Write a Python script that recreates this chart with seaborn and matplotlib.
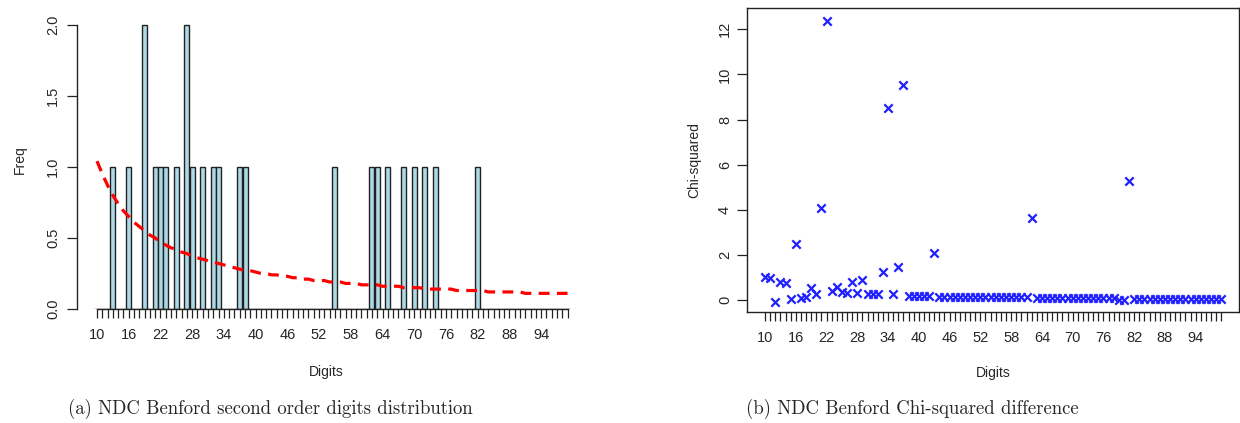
import numpy as np
import pandas as pd
import matplotlib
matplotlib.use("Agg")
import matplotlib.pyplot as plt
import seaborn as sns

# digits 10..99
digits = list(range(10, 100))

# observed second order digit counts (only non-zero ones)
freq_nonzero = {13: 1, 16: 1, 19: 2, 21: 1, 22: 1, 23: 1, 25: 1, 27: 2, 28: 1,
                30: 1, 32: 1, 33: 1, 37: 1, 38: 1, 55: 1, 62: 1, 63: 1, 65: 1,
                68: 1, 70: 1, 72: 1, 74: 1, 82: 1}

# expected (Benford) frequency
expected = [1.04, 0.95, 0.87, 0.80, 0.74, 0.69, 0.65, 0.61, 0.58, 0.55,
            0.52, 0.50, 0.47, 0.45, 0.43, 0.42, 0.40, 0.39, 0.37, 0.36,
            0.35, 0.34, 0.33, 0.32, 0.31, 0.30, 0.29, 0.28, 0.27, 0.27,
            0.26, 0.25, 0.25, 0.24, 0.24, 0.23, 0.23, 0.22, 0.22, 0.21,
            0.21, 0.20, 0.20, 0.20, 0.19, 0.19, 0.19, 0.18, 0.18, 0.18,
            0.17, 0.17, 0.17, 0.17, 0.16, 0.16, 0.16, 0.16, 0.15, 0.15,
            0.15, 0.15, 0.14, 0.14, 0.14, 0.14, 0.14, 0.14, 0.13, 0.13,
            0.13, 0.13, 0.13, 0.13, 0.12, 0.12, 0.12, 0.12, 0.12, 0.12,
            0.12, 0.11, 0.11, 0.11, 0.11, 0.11, 0.11, 0.11, 0.11, 0.11]

# chi-squared difference per digit
chisq = ([1.00, 0.96, -0.07, 0.80, 0.74, 0.03, 2.47, 0.09, 0.15, 0.52,
          0.27, 4.09, 12.38, 0.40, 0.59, 0.37, 0.30, 0.78, 0.30, 0.89,
          0.27, 0.27, 0.27, 1.23, 8.50, 0.27, 1.48, 9.53]
         + [0.19] * 5 + [2.07] + [0.15] * 9 + [0.12] * 9 + [3.62]
         + [0.10] * 16 + [0.00] * 2 + [5.29] + [0.04] * 18)

tick_labels = [str(d) if (d - 10) % 6 == 0 else "" for d in digits]

df = pd.DataFrame({"digit": [str(d) for d in digits],
                   "freq": [freq_nonzero.get(d, 0) for d in digits],
                   "expected": expected,
                   "chisq": chisq,
                   "pos": np.arange(len(digits))})

sns.set_style("ticks")
plt.rcParams["font.family"] = ["Liberation Sans", "DejaVu Sans"]

fig = plt.figure(figsize=(12.4, 4.23), dpi=100)

# ---- (a) bar chart
ax1 = fig.add_axes([0.0621, 0.2695, 0.4016, 0.7059])
sns.barplot(data=df, x="digit", y="freq", color="#ADD8E6", saturation=1,
            edgecolor="#222222", linewidth=1.0, width=0.95, ax=ax1)
sns.lineplot(data=df, x="pos", y="expected", color="red", lw=2.3,
             linestyle=(0, (3.4, 2.3)), ax=ax1)
ax1.set_xlim(-3.78, 90.4)
ax1.set_ylim(0, 2.1)
ax1.set_xticks(df["pos"])
ax1.set_xticklabels(tick_labels, fontsize=10.5)
ax1.set_yticks([0, 0.5, 1.0, 1.5, 2.0])
ax1.set_yticklabels(["0.0", "0.5", "1.0", "1.5", "2.0"], rotation=90,
                    va="center", fontsize=10.5)
for s in ["top", "right"]:
    ax1.spines[s].set_visible(False)
ax1.spines["left"].set_bounds(0, 2)
ax1.spines["bottom"].set_bounds(0, 89)
for s in ["left", "bottom"]:
    ax1.spines[s].set_color("#222222")
    ax1.spines[s].set_linewidth(1.0)
ax1.tick_params(axis="x", bottom=True, length=6.5, width=0.9, pad=7,
                color="#222222")
ax1.tick_params(axis="y", left=True, length=7, width=0.9, pad=5,
                color="#222222")
ax1.set_xlabel("Digits", fontsize=10, labelpad=17)
ax1.set_ylabel("Freq", fontsize=10, labelpad=14)

# ---- (b) scatter chart
ax2 = fig.add_axes([0.6027, 0.2617, 0.3965, 0.7187])
sns.scatterplot(data=df, x="pos", y="chisq", marker="x", color="#2020ff",
                s=36, linewidth=1.6, ax=ax2)
ax2.set_xlim(-3.45, 92.45)
ax2.set_ylim(-0.545, 12.93)
ax2.set_xticks(df["pos"])
ax2.set_xticklabels(tick_labels, fontsize=10.5)
ax2.set_yticks(range(0, 13, 2))
ax2.set_yticklabels([str(v) for v in range(0, 13, 2)], rotation=90,
                    va="center", fontsize=10.5)
for s in ax2.spines.values():
    s.set_color("#222222")
    s.set_linewidth(1.0)
ax2.tick_params(axis="x", bottom=True, length=6.5, width=0.9, pad=7,
                color="#222222")
ax2.tick_params(axis="y", left=True, length=7, width=0.9, pad=4,
                color="#222222")
ax2.set_xlabel("Digits", fontsize=10, labelpad=15)
ax2.set_ylabel("Chi-squared", fontsize=10, labelpad=12)

# captions
fig.text(0.218, 0.033, "(a) NDC Benford second order digits distribution",
         ha="center", va="center", fontsize=13.5, family="cmr10")
fig.text(0.736, 0.033, "(b) NDC Benford Chi-squared difference",
         ha="center", va="center", fontsize=13.5, family="cmr10")

fig.savefig("out.png", dpi=100)
